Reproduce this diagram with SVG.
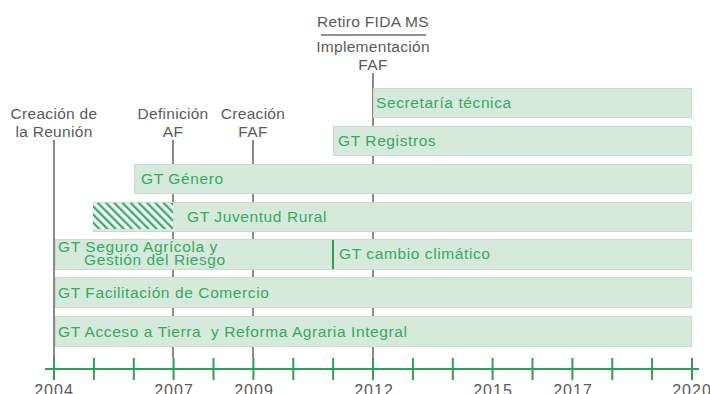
<svg xmlns="http://www.w3.org/2000/svg" width="710" height="394" viewBox="0 0 710 394">
<defs>
<style>
.bar{fill:#d6eadb;stroke:#c9d9cc;stroke-width:1}
.gt{font-family:"Liberation Sans",Arial,sans-serif;font-size:15.5px;fill:#35a862;letter-spacing:0.6px}
.lbl{font-family:"Liberation Sans",Arial,sans-serif;font-size:15.5px;fill:#5a5a5a;text-anchor:middle;letter-spacing:0.3px}
.yr{font-family:"Liberation Sans",Arial,sans-serif;font-size:16px;fill:#5a5a5a;text-anchor:middle;letter-spacing:1px}
.ms{stroke:#6e6e6e;stroke-width:1.6;fill:none}
.tick{stroke:#2e9e5b;stroke-width:2}
</style>
<pattern id="hatch" patternUnits="userSpaceOnUse" width="5.8" height="5.8" patternTransform="rotate(-45)">
<rect width="5.8" height="5.8" fill="#f4faf6"/>
<rect x="0" y="0" width="2.3" height="5.8" fill="#3aab68"/>
</pattern>
</defs>
<rect width="710" height="394" fill="#ffffff"/>
<g id="connectors">
<line class="ms" x1="54" y1="140" x2="54" y2="358"/>
<line class="ms" x1="173" y1="140" x2="173" y2="358"/>
<line class="ms" x1="253" y1="140" x2="253" y2="358"/>
<line class="ms" x1="373" y1="73" x2="373" y2="358"/>
</g>
<g id="labels">
<text class="lbl" x="54" y="119">Creación de</text>
<text class="lbl" x="54" y="137">la Reunión</text>
<text class="lbl" x="173" y="119">Definición</text>
<text class="lbl" x="173" y="137">AF</text>
<text class="lbl" x="253" y="119">Creación</text>
<text class="lbl" x="253" y="137">FAF</text>
<text class="lbl" x="373" y="27">Retiro FIDA MS</text>
<line x1="321" y1="35" x2="426" y2="35" stroke="#6e6e6e" stroke-width="1.5"/>
<text class="lbl" x="373" y="52">Implementación</text>
<text class="lbl" x="373" y="70">FAF</text>
</g>
<g id="secretaria">
<rect class="bar" x="373.5" y="88.5" width="318" height="29"/>
<text class="gt" x="376" y="108">Secretaría técnica</text>
</g>
<g id="registros">
<rect class="bar" x="333.5" y="126.5" width="358" height="29"/>
<text class="gt" x="338" y="146">GT Registros</text>
</g>
<g id="genero">
<rect class="bar" x="134.5" y="164.5" width="557" height="29"/>
<text class="gt" x="141" y="184">GT Género</text>
</g>
<g id="juventud">
<rect class="bar" x="93.5" y="202.5" width="598" height="29"/>
<rect x="93" y="203" width="80" height="26" fill="url(#hatch)"/>
<text class="gt" x="187" y="222">GT Juventud Rural</text>
</g>
<g id="seguro">
<rect class="bar" x="55.5" y="239.5" width="636" height="30"/>
<text class="gt" x="58" y="252">GT Seguro Agrícola y</text>
<text class="gt" x="84" y="265">Gestión del Riesgo</text>
<line x1="333" y1="240" x2="333" y2="269" stroke="#2e9e5b" stroke-width="2"/>
<text class="gt" x="339" y="259">GT cambio climático</text>
</g>
<g id="comercio">
<rect class="bar" x="55.5" y="277.5" width="636" height="30"/>
<text class="gt" x="58" y="298">GT Facilitación de Comercio</text>
</g>
<g id="tierra">
<rect class="bar" x="55.5" y="316.5" width="636" height="30"/>
<text class="gt" x="58" y="337" xml:space="preserve">GT Acceso a Tierra  y Reforma Agraria Integral</text>
</g>
<g id="axis">
<line class="tick" x1="45" y1="369" x2="699" y2="369"/>
<g class="tick">
<line x1="54" y1="358" x2="54" y2="380"/>
<line x1="93.9" y1="358" x2="93.9" y2="380"/>
<line x1="133.8" y1="358" x2="133.8" y2="380"/>
<line x1="173.6" y1="358" x2="173.6" y2="380"/>
<line x1="213.5" y1="358" x2="213.5" y2="380"/>
<line x1="253.4" y1="358" x2="253.4" y2="380"/>
<line x1="293.3" y1="358" x2="293.3" y2="380"/>
<line x1="333.1" y1="358" x2="333.1" y2="380"/>
<line x1="373" y1="358" x2="373" y2="380"/>
<line x1="412.9" y1="358" x2="412.9" y2="380"/>
<line x1="452.8" y1="358" x2="452.8" y2="380"/>
<line x1="492.6" y1="358" x2="492.6" y2="380"/>
<line x1="532.5" y1="358" x2="532.5" y2="380"/>
<line x1="572.4" y1="358" x2="572.4" y2="380"/>
<line x1="612.3" y1="358" x2="612.3" y2="380"/>
<line x1="652.1" y1="358" x2="652.1" y2="380"/>
<line x1="692" y1="358" x2="692" y2="380"/>
</g>
<text class="yr" x="54" y="396">2004</text>
<text class="yr" x="174" y="396">2007</text>
<text class="yr" x="254" y="396">2009</text>
<text class="yr" x="374" y="396">2012</text>
<text class="yr" x="493" y="396">2015</text>
<text class="yr" x="573" y="396">2017</text>
<text class="yr" x="692" y="396">2020</text>
</g>
</svg>
